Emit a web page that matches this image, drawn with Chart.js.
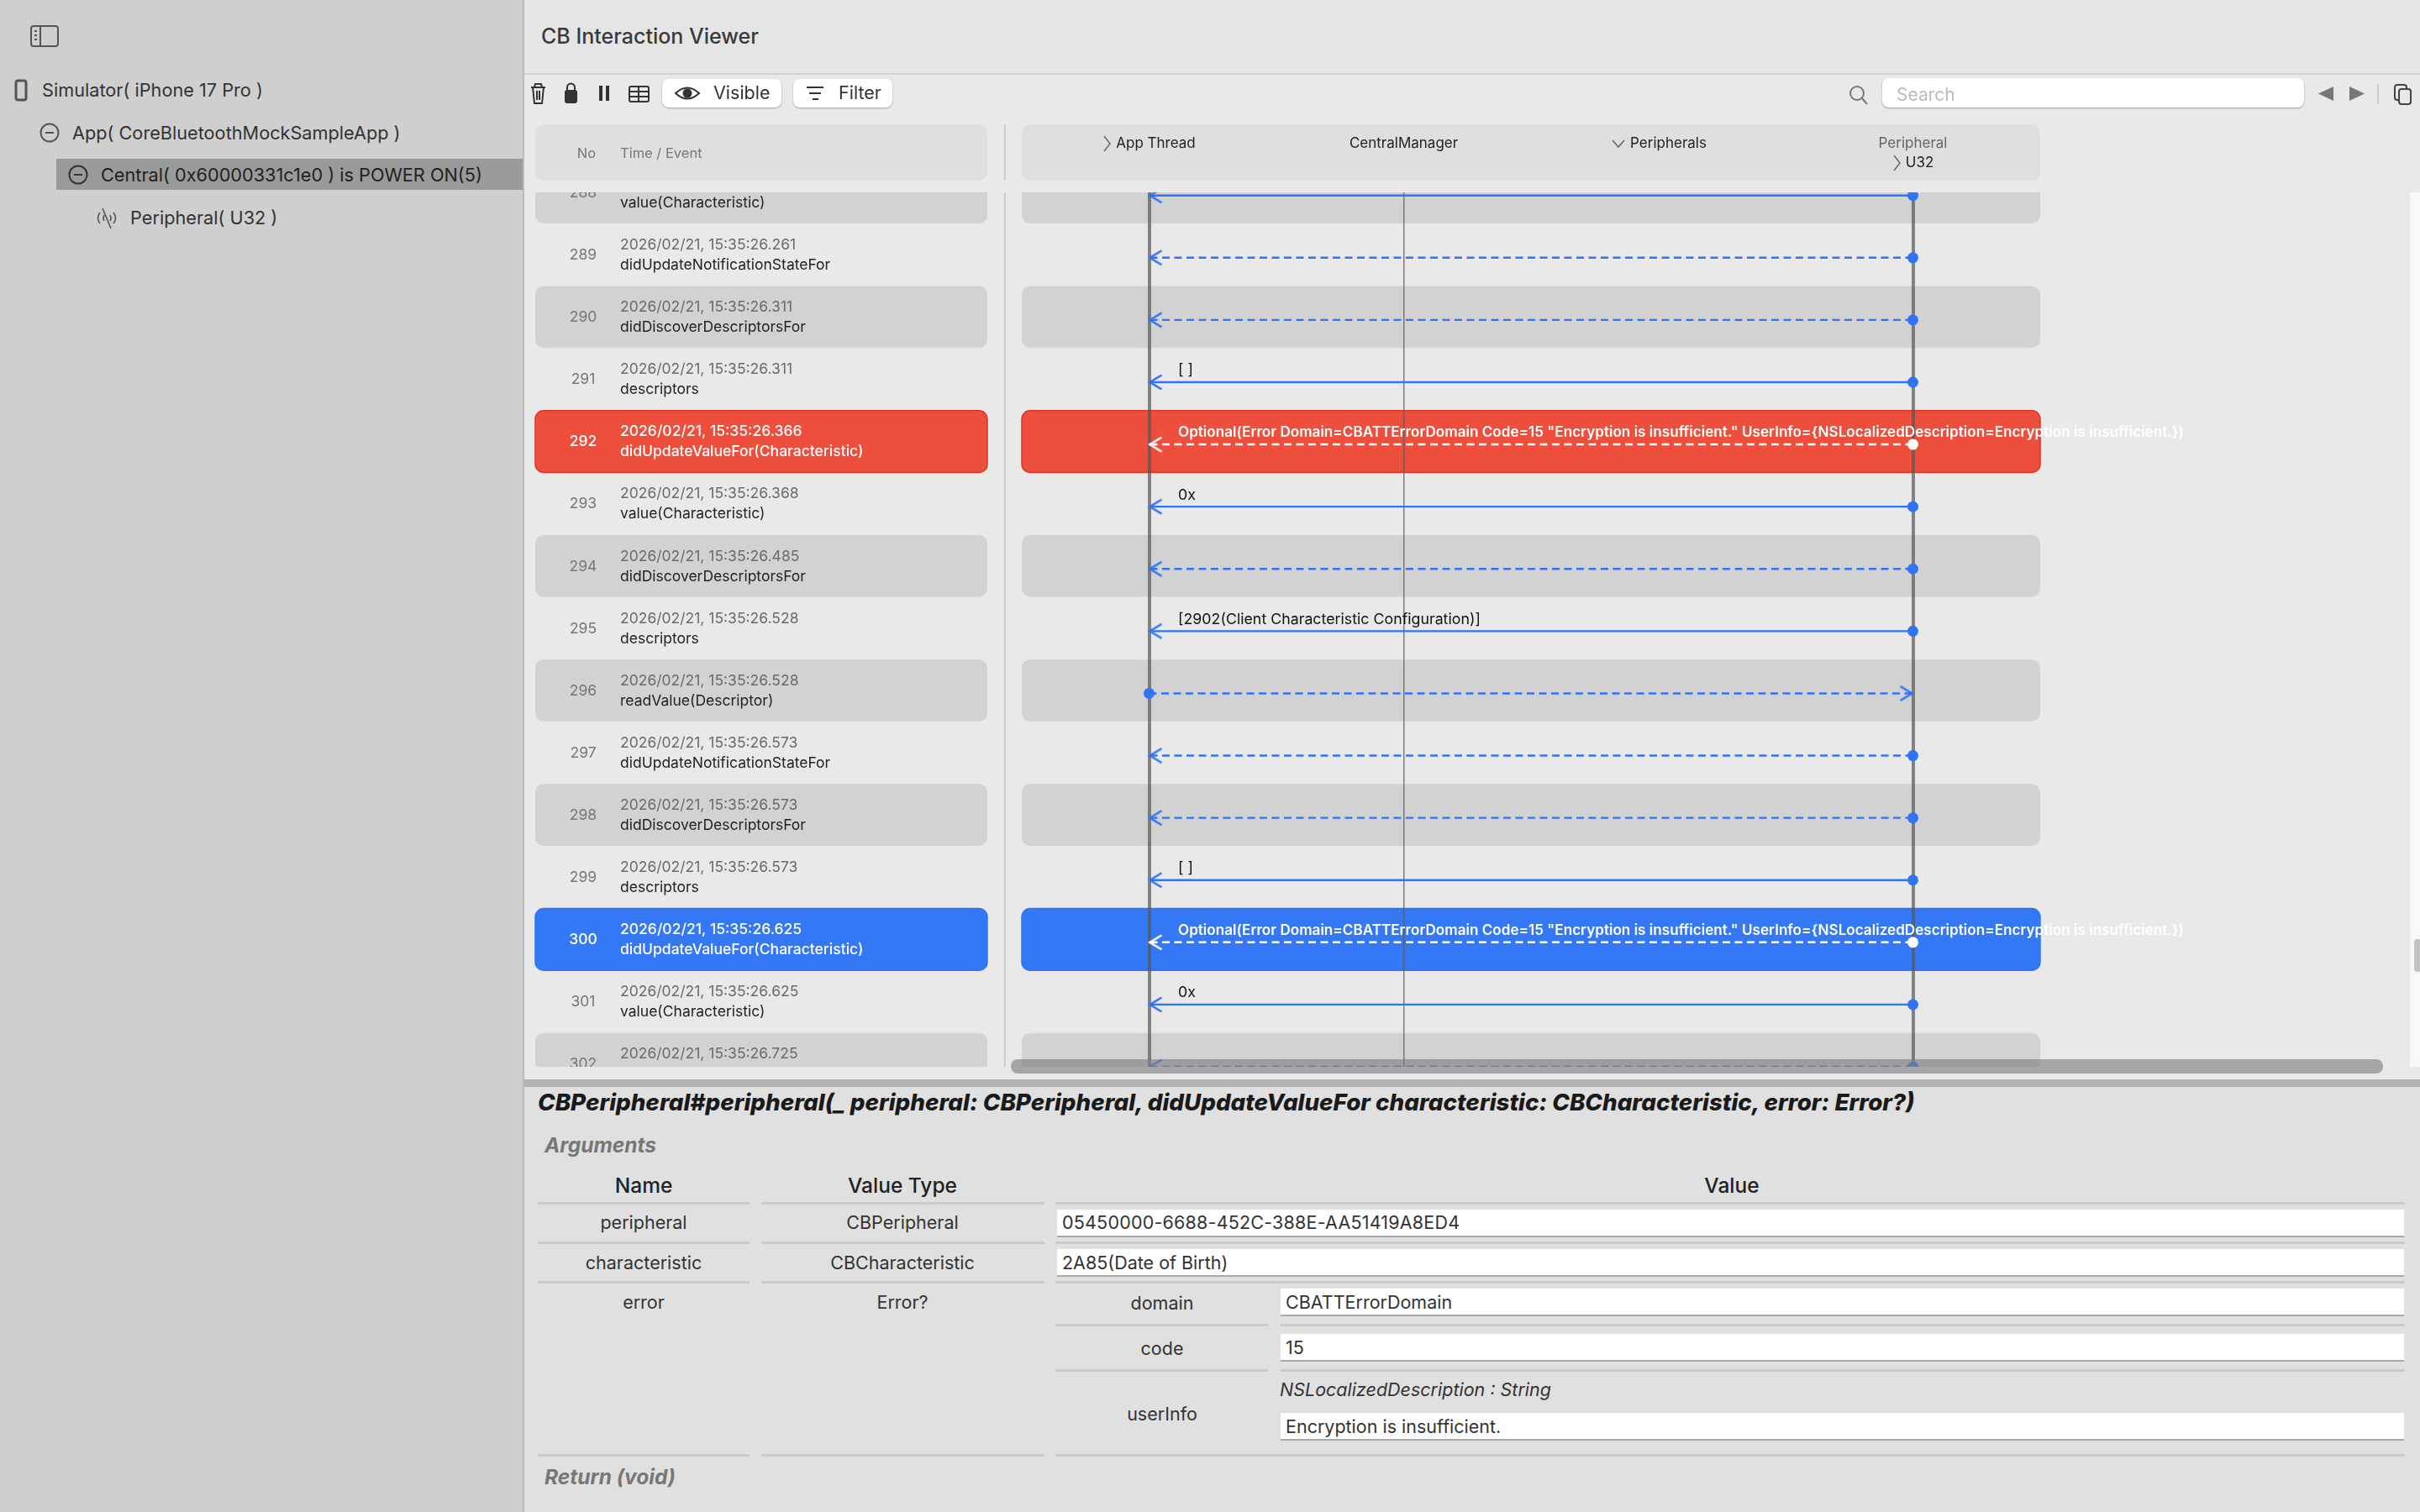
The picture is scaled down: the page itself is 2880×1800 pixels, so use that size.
<!DOCTYPE html>
<html>
<head>
<meta charset="utf-8">
<title>CB Interaction Viewer</title>
<script src="https://cdn.jsdelivr.net/npm/chart.js@4"></script>
<style>
html, body { margin: 0; padding: 0; width: 2880px; height: 1800px; overflow: hidden; background: #e9e9e9; font-family: Inter, "Noto Sans", sans-serif; }
canvas { position: absolute; left: 0; top: 0; }
.box { position: absolute; }
.t { position: absolute; white-space: nowrap; transform: translateY(-50%); }
.c { position: absolute; white-space: nowrap; transform: translate(-50%, -50%); }
.side { font-size: 21.7px; color: #333; }
.cell { font-size: 21.5px; color: #333; }
.head { font-size: 24.5px; font-weight: 500; color: #222; }
.field { position: absolute; background: #fff; border-bottom: 2px solid #a9a9a9; box-sizing: border-box; }
.rule { position: absolute; height: 3px; background: #cbcbcb; }
.ital { font-style: italic; font-weight: 700; color: #777; font-size: 24.5px; }
svg { position: absolute; overflow: visible; }
</style>
</head>
<body>
<canvas id="grafico" width="2880" height="1800"></canvas>

<!-- sidebar -->
<div class="box" style="left:0;top:0;width:622px;height:1800px;background:#cfcfcf;border-right:2px solid #bdbdbd"></div>
<div class="box" style="left:67px;top:189px;width:555px;height:37px;background:#9a9a9a"></div>
<svg style="left:0;top:0" width="622" height="300" fill="none" stroke="#555" stroke-width="2">
  <rect x="37" y="31" width="32" height="24" rx="3"/><path d="M48 31v24M41 37h3M41 42h3M41 47h3"/>
  <rect x="19" y="96" width="12" height="23" rx="2.5" stroke-width="3"/>
  <circle cx="59" cy="158" r="10.5"/><path d="M54 158h10"/>
  <circle cx="93" cy="208" r="10.5" stroke="#333"/><path d="M88 208h10" stroke="#333"/>
  <path d="M122 248l10 24M119 253q-5 7 0 13M135 253q5 7 0 13M124 256q-2 4 0 7M131 256q2 4 0 7" stroke-width="1.6"/>
</svg>
<div class="t side" style="left:50px;top:107px">Simulator( iPhone 17 Pro )</div>
<div class="t side" style="left:86px;top:158px">App( CoreBluetoothMockSampleApp )</div>
<div class="t side" style="left:120px;top:208px;color:#222">Central( 0x60000331c1e0 ) is POWER ON(5)</div>
<div class="t side" style="left:155px;top:259px">Peripheral( U32 )</div>

<!-- title bar and toolbar -->
<div class="box" style="left:624px;top:0;width:2256px;height:87px;background:#e5e5e5;border-bottom:2px solid #d2d2d2"></div>
<div class="t" style="left:644px;top:43px;font-size:25px;font-weight:500;color:#3a3a3a">CB Interaction Viewer</div>
<svg style="left:0;top:0" width="2880" height="140" fill="none" stroke="#333" stroke-width="2">
  <path d="M632 104h17M636 104l1-4h7l1 4M634 104l2 19h9l2-19M639 108v11M642 108v11"/>
  <path d="M675 108v-4a4.500 4.500 0 0 1 9 0v4"/><rect x="673" y="108" width="13" height="14" rx="2" fill="#333"/>
  <rect x="713" y="102" width="4" height="18" fill="#333" stroke="none"/><rect x="721" y="102" width="4" height="18" fill="#333" stroke="none"/>
  <rect x="749" y="103" width="23" height="18" rx="2"/><path d="M749 109h23M749 115h23M760 103v18"/>
  <path d="M2216 117l6 7" stroke="#777"/><circle cx="2210" cy="111" r="8" stroke="#777"/>
  <path d="M2777 103v17l-18-8.500zM2796 103v17l18-8.500z" fill="#777" stroke="none"/>
  <path d="M2830 100v24" stroke="#ccc"/>
  <rect x="2850" y="101" width="14" height="18" rx="3" stroke="#444"/><rect x="2855" y="106" width="14" height="18" rx="3" fill="#e9e9e9" stroke="#444"/>
</svg>
<div class="box" style="left:788px;top:94px;width:142px;height:34px;background:#fff;border-radius:8px;box-shadow:0 1px 2px rgba(0,0,0,.3)"></div>
<div class="box" style="left:944px;top:94px;width:118px;height:34px;background:#fff;border-radius:8px;box-shadow:0 1px 2px rgba(0,0,0,.3)"></div>
<svg style="left:0;top:0" width="1100" height="140" fill="none" stroke="#333" stroke-width="2">
  <path d="M804 111q14-13 28 0q-14 13-28 0z"/><circle cx="818" cy="111" r="4.500" fill="#333"/>
  <path d="M960 104h20M963 111h14M967 118h7"/>
</svg>
<div class="t" style="left:849px;top:110px;font-size:21.5px;color:#333">Visible</div>
<div class="t" style="left:998px;top:110px;font-size:21.5px;color:#333">Filter</div>
<div class="box" style="left:2240px;top:93px;width:502px;height:35px;background:#fff;border-radius:8px;box-shadow:0 1px 2px rgba(0,0,0,.35)"></div>
<div class="t" style="left:2257px;top:112px;font-size:21px;color:#bbb">Search</div>

<!-- scroll bars -->
<div class="box" style="left:2868px;top:229px;width:12px;height:1041px;background:#f8f8f8"></div>
<div class="box" style="left:2873px;top:1118px;width:7px;height:39px;background:#c2c2c2;border-radius:4px 0 0 4px"></div>
<div class="box" style="left:1203px;top:1261px;width:1633px;height:17px;background:rgba(125,125,128,.62);border-radius:8px"></div>

<!-- detail panel -->
<div class="box" style="left:624px;top:1285px;width:2256px;height:9px;background:#b3b3b3"></div>
<div class="box" style="left:624px;top:1294px;width:2256px;height:506px;background:#e0e0e0"></div>
<div class="t" style="left:640px;top:1312px;font-size:27.75px;font-weight:800;font-style:italic;color:#1a1a1a">CBPeripheral#peripheral(_ peripheral: CBPeripheral, didUpdateValueFor characteristic: CBCharacteristic, error: Error?)</div>
<div class="t ital" style="left:648px;top:1363px">Arguments</div>
<div class="t ital" style="left:648px;top:1758px">Return (void)</div>
<div class="c head" style="left:766px;top:1411px">Name</div>
<div class="c head" style="left:1074px;top:1411px">Value Type</div>
<div class="c head" style="left:2061px;top:1411px">Value</div>

<div class="rule" style="left:640px;top:1431px;width:252px"></div><div class="rule" style="left:906px;top:1431px;width:337px"></div><div class="rule" style="left:1256px;top:1431px;width:1606px"></div>
<div class="rule" style="left:640px;top:1478px;width:252px"></div><div class="rule" style="left:906px;top:1478px;width:337px"></div><div class="rule" style="left:1256px;top:1478px;width:1606px"></div>
<div class="rule" style="left:640px;top:1525px;width:252px"></div><div class="rule" style="left:906px;top:1525px;width:337px"></div><div class="rule" style="left:1256px;top:1525px;width:1606px"></div>
<div class="rule" style="left:1256px;top:1576px;width:253px"></div><div class="rule" style="left:1524px;top:1576px;width:1338px"></div>
<div class="rule" style="left:1256px;top:1630px;width:253px"></div><div class="rule" style="left:1524px;top:1630px;width:1338px"></div>
<div class="rule" style="left:640px;top:1731px;width:252px"></div><div class="rule" style="left:906px;top:1731px;width:337px"></div><div class="rule" style="left:1256px;top:1731px;width:1606px"></div>

<div class="c cell" style="left:766px;top:1455px">peripheral</div>
<div class="c cell" style="left:1074px;top:1455px">CBPeripheral</div>
<div class="c cell" style="left:766px;top:1503px">characteristic</div>
<div class="c cell" style="left:1074px;top:1503px">CBCharacteristic</div>
<div class="c cell" style="left:766px;top:1550px">error</div>
<div class="c cell" style="left:1074px;top:1550px">Error?</div>
<div class="c cell" style="left:1383px;top:1551px">domain</div>
<div class="c cell" style="left:1383px;top:1605px">code</div>
<div class="c cell" style="left:1383px;top:1683px">userInfo</div>

<div class="field" style="left:1258px;top:1440px;width:1603px;height:33px"></div>
<div class="field" style="left:1258px;top:1487px;width:1603px;height:33px"></div>
<div class="field" style="left:1524px;top:1534px;width:1337px;height:33px"></div>
<div class="field" style="left:1524px;top:1588px;width:1337px;height:33px"></div>
<div class="field" style="left:1524px;top:1682px;width:1337px;height:33px"></div>
<div class="t cell" style="left:1264px;top:1455px;letter-spacing:.2px">05450000-6688-452C-388E-AA51419A8ED4</div>
<div class="t cell" style="left:1264px;top:1503px">2A85(Date of Birth)</div>
<div class="t cell" style="left:1530px;top:1550px">CBATTErrorDomain</div>
<div class="t cell" style="left:1530px;top:1604px">15</div>
<div class="t cell" style="left:1523px;top:1654px;font-style:italic">NSLocalizedDescription : String</div>
<div class="t cell" style="left:1530px;top:1698px">Encryption is insufficient.</div>

<script>
// Linhas da tabela
const rowNumbers = [288, 289, 290, 291, 292, 293, 294, 295, 296, 297, 298, 299, 300, 301, 302];
const rowTimes = ['', '2026/02/21, 15:35:26.261', '2026/02/21, 15:35:26.311', '2026/02/21, 15:35:26.311',
    '2026/02/21, 15:35:26.366', '2026/02/21, 15:35:26.368', '2026/02/21, 15:35:26.485', '2026/02/21, 15:35:26.528',
    '2026/02/21, 15:35:26.528', '2026/02/21, 15:35:26.573', '2026/02/21, 15:35:26.573', '2026/02/21, 15:35:26.573',
    '2026/02/21, 15:35:26.625', '2026/02/21, 15:35:26.625', '2026/02/21, 15:35:26.725'];
const rowEvents = ['value(Characteristic)', 'didUpdateNotificationStateFor', 'didDiscoverDescriptorsFor', 'descriptors',
    'didUpdateValueFor(Characteristic)', 'value(Characteristic)', 'didDiscoverDescriptorsFor', 'descriptors',
    'readValue(Descriptor)', 'didUpdateNotificationStateFor', 'didDiscoverDescriptorsFor', 'descriptors',
    'didUpdateValueFor(Characteristic)', 'value(Characteristic)', ''];

// Mensagens: coluna de origem, coluna de destino, tracejado, texto
const errorText = 'Optional(Error Domain=CBATTErrorDomain Code=15 "Encryption is insufficient." UserInfo={NSLocalizedDescription=Encryption is insufficient.})';
const messageFrom = [3, 3, 3, 3, 3, 3, 3, 3, 0, 3, 3, 3, 3, 3, 3];
const messageTo = [0, 0, 0, 0, 0, 0, 0, 0, 3, 0, 0, 0, 0, 0, 0];
const messageDashed = [false, true, true, false, true, false, true, false, true, true, true, false, true, false, true];
const messageText = ['', '', '', '[ ]', errorText, '0x', '', '[2902(Client Characteristic Configuration)]', '', '', '', '[ ]', errorText, '0x', ''];

// Colunas do diagrama
const lanes = [0, 1, 2, 3];
const laneNames = ['App Thread', 'CentralManager', 'Peripherals', 'Peripheral'];
const errorRows = [292];
const selectedRows = [300];

const AZUL = '#2f74f5';
const FONTE = 'Inter, "Noto Sans", sans-serif';

// Ponta de seta com o vértice no centro da imagem; lado -1 aponta para a direita
function chevron(cor, lado) {
    const c = document.createElement('canvas');
    c.width = 44;
    c.height = 44;
    const x = c.getContext('2d');
    x.strokeStyle = cor;
    x.lineWidth = 2.6;
    x.beginPath();
    x.moveTo(22 + lado * 15, 13.5);
    x.lineTo(22 + lado * 1, 22);
    x.lineTo(22 + lado * 15, 30.5);
    x.stroke();
    return c;
}

function destaque(row) {
    return errorRows.includes(row) || selectedRows.includes(row);
}

const datasets = rowNumbers.map((row, i) => {
    const cor = destaque(row) ? '#ffffff' : AZUL;
    const lado = messageTo[i] > messageFrom[i] ? -1 : 1;
    return {
        data: [{ x: messageFrom[i], y: row }, { x: messageTo[i], y: row }],
        showLine: true,
        borderColor: cor,
        backgroundColor: cor,
        borderWidth: 2.4,
        borderDash: messageDashed[i] ? [9, 5.5] : [],
        pointStyle: ['circle', chevron(cor, lado)],
        pointRadius: 6.5,
        pointBorderWidth: 0,
        clip: 0
    };
});

function texto(ctx, s, x, y, font, cor, align) {
    ctx.font = font;
    ctx.fillStyle = cor;
    ctx.textAlign = align || 'left';
    ctx.textBaseline = 'middle';
    ctx.fillText(s, x, y);
}

function faixa(ctx, x0, x1, y0, y1, cor, borda) {
    ctx.beginPath();
    ctx.roundRect(x0, y0, x1 - x0, y1 - y0, 10);
    ctx.fillStyle = cor;
    ctx.fill();
    if (borda) {
        ctx.strokeStyle = borda;
        ctx.lineWidth = 1.5;
        ctx.stroke();
    }
}

// Faixas das linhas e cabeçalho, atrás das grades
const fundoPlugin = {
    id: 'fundo',
    beforeDraw(chart) {
        const { ctx, chartArea: a, scales: { y } } = chart;
        ctx.save();
        faixa(ctx, 637, 1175, 148, 215, '#dfdfdf');
        faixa(ctx, a.left, a.right, 148, 215, '#dfdfdf');
        ctx.fillStyle = '#c4c4c4';
        ctx.fillRect(1195, 148, 1.5, 67);
        ctx.fillRect(1195, a.top, 1.5, a.bottom - a.top);

        ctx.beginPath();
        ctx.rect(0, a.top, 2880, a.bottom - a.top);
        ctx.clip();
        rowNumbers.forEach((row) => {
            let cor = row % 2 === 0 ? '#d2d2d2' : null;
            let borda = null;
            if (errorRows.includes(row)) { cor = '#ee4e3c'; borda = '#dc3526'; }
            if (selectedRows.includes(row)) { cor = '#3478f6'; borda = '#2f74f5'; }
            if (!cor) return;
            const y0 = y.getPixelForValue(row - 0.544);
            const y1 = y.getPixelForValue(row + 0.45);
            faixa(ctx, 637, 1175, y0, y1, cor, borda);
            faixa(ctx, a.left, a.right, y0, y1, cor, borda);
        });
        ctx.restore();
    },
    afterDatasetsDraw(chart) {
        const { ctx, chartArea: a, scales: { x, y } } = chart;
        ctx.save();
        texto(ctx, 'No', 698, 183, '16.5px ' + FONTE, '#777', 'center');
        texto(ctx, 'Time / Event', 738, 183, '16.5px ' + FONTE, '#777');
        texto(ctx, laneNames[0], x.getPixelForValue(0) + 8, 171, '17px ' + FONTE, '#222', 'center');
        texto(ctx, laneNames[1], x.getPixelForValue(1), 171, '17px ' + FONTE, '#222', 'center');
        texto(ctx, laneNames[2], x.getPixelForValue(2) + 12, 171, '17px ' + FONTE, '#222', 'center');
        texto(ctx, laneNames[3], x.getPixelForValue(3), 171, '17px ' + FONTE, '#666', 'center');
        texto(ctx, 'U32', x.getPixelForValue(3) + 8, 194, '17px ' + FONTE, '#222', 'center');
        ctx.strokeStyle = '#666';
        ctx.lineWidth = 1.5;
        ctx.beginPath();
        ctx.moveTo(1314, 162); ctx.lineTo(1321, 171); ctx.lineTo(1314, 180);
        ctx.moveTo(2254, 185); ctx.lineTo(2261, 194); ctx.lineTo(2254, 203);
        ctx.moveTo(1919, 167); ctx.lineTo(1926, 175); ctx.lineTo(1933, 167);
        ctx.stroke();

        ctx.beginPath();
        ctx.rect(0, a.top, 2880, a.bottom - a.top);
        ctx.clip();
        rowNumbers.forEach((row, i) => {
            const py = y.getPixelForValue(row);
            const hi = destaque(row);
            const peso = hi ? '500 ' : '';
            texto(ctx, String(row), 694, py - 3, peso + '17.5px ' + FONTE, hi ? '#fff' : '#777', 'center');
            if (rowTimes[i]) texto(ctx, rowTimes[i], 738, py - 15, peso + '17.5px ' + FONTE, hi ? '#fff' : '#6b6b6b');
            if (rowEvents[i]) texto(ctx, rowEvents[i], 738, py + 9, peso + '17.5px ' + FONTE, hi ? '#fff' : '#222');
            if (messageText[i]) texto(ctx, messageText[i], 1402, py - 14, (hi ? '600 17.13px ' : '400 17.8px ') + FONTE, hi ? '#fff' : '#111');
        });
        ctx.restore();
    }
};

new Chart(document.getElementById('grafico'), {
    type: 'scatter',
    data: { datasets },
    plugins: [fundoPlugin],
    options: {
        responsive: false,
        devicePixelRatio: 1,
        animation: false,
        events: [],
        layout: { padding: { left: 1216, right: 452, top: 229, bottom: 530 } },
        plugins: { legend: { display: false }, tooltip: { enabled: false } },
        scales: {
            x: {
                type: 'linear',
                min: -0.5,
                max: 3.5,
                afterBuildTicks(axis) { axis.ticks = lanes.map((v) => ({ value: v })); },
                ticks: { display: false },
                border: { display: false },
                grid: {
                    drawTicks: false,
                    color: (c) => (c.tick.value === 2 ? 'rgba(0,0,0,0)' : (c.tick.value === 1 ? 'rgba(90,90,90,.75)' : 'rgba(85,85,85,.7)')),
                    lineWidth: (c) => (c.tick.value === 1 ? 1.5 : 4)
                }
            },
            y: {
                type: 'linear',
                reverse: true,
                min: 287.95,
                max: 302,
                display: false
            }
        }
    }
});
</script>
</body>
</html>
